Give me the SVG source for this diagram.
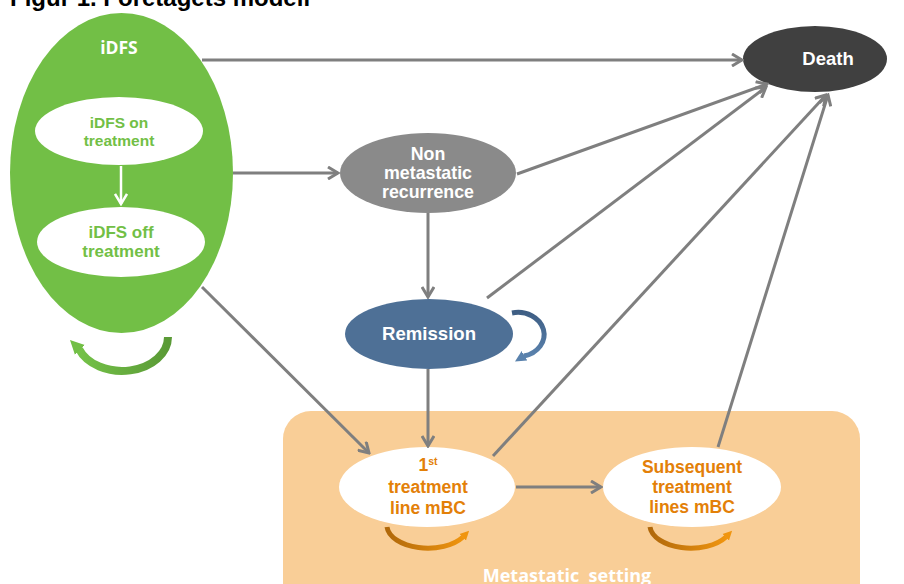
<svg xmlns="http://www.w3.org/2000/svg" width="904" height="584" viewBox="0 0 904 584">
<defs>
<style>
.b{font-family:"Liberation Sans",Arial,sans-serif;font-weight:bold;text-anchor:middle}
.o{font-family:"Open Sans","Liberation Sans",sans-serif;font-weight:bold;text-anchor:middle}
.w{fill:#ffffff}
.g{fill:#72BF46}
.or{fill:#E38008}
.con{stroke:#7F7F7F;stroke-width:3;fill:none;marker-end:url(#ah)}
</style>
<marker id="ah" viewBox="0 0 14 14" refX="12" refY="7" markerWidth="14" markerHeight="14" markerUnits="userSpaceOnUse" orient="auto">
<path d="M2,1 L12,7 L2,13" fill="none" stroke="#7F7F7F" stroke-width="3" stroke-linejoin="miter"/>
</marker>
<marker id="ahw" viewBox="0 0 14 14" refX="12" refY="7" markerWidth="14" markerHeight="14" markerUnits="userSpaceOnUse" orient="auto">
<path d="M2,1 L12,7 L2,13" fill="none" stroke="#ffffff" stroke-width="2.5"/>
</marker>
<marker id="mg" viewBox="0 0 10 10" refX="1" refY="5" markerWidth="14" markerHeight="18" markerUnits="userSpaceOnUse" orient="auto">
<path d="M0,0 L10,5 L0,10 z" fill="#72BF46"/>
</marker>
<marker id="mb" viewBox="0 0 10 10" refX="1" refY="5" markerWidth="11" markerHeight="13" markerUnits="userSpaceOnUse" orient="auto">
<path d="M0,0 L10,5 L0,10 z" fill="#5A82AD"/>
</marker>
<marker id="mo" viewBox="0 0 10 10" refX="1" refY="5" markerWidth="9" markerHeight="11" markerUnits="userSpaceOnUse" orient="auto">
<path d="M0,0 L10,5 L0,10 z" fill="#F0950F"/>
</marker>
<linearGradient id="gg" x1="0" y1="0" x2="1" y2="0">
<stop offset="0" stop-color="#74C248"/><stop offset="1" stop-color="#5A9A36"/>
</linearGradient>
<linearGradient id="gb" x1="0" y1="0" x2="0" y2="1">
<stop offset="0" stop-color="#3E5E84"/><stop offset="1" stop-color="#5A82AD"/>
</linearGradient>
<linearGradient id="go" x1="0" y1="0" x2="1" y2="0">
<stop offset="0" stop-color="#B0680A"/><stop offset="1" stop-color="#F0950F"/>
</linearGradient>
</defs>
<rect width="904" height="584" fill="#ffffff"/>
<text x="10" y="6" style="font-family:'Liberation Sans',Arial,sans-serif;font-weight:bold;font-size:24px">Figur 1. Företagets modell</text>

<g id="metastatic-setting">
<rect x="283" y="411" width="577" height="200" rx="28" fill="#F9CE97"/>
<text x="567" y="582" class="o w" style="font-size:18px;white-space:pre">Metastatic  setting</text>
</g>

<g id="idfs">
<ellipse cx="121.5" cy="173" rx="111.5" ry="160" fill="#72BF46"/>
<text x="119" y="54" class="o w" style="font-size:17.5px">iDFS</text>
<path d="M168,337 A46,34 0 0 1 79,349" fill="none" stroke="url(#gg)" stroke-width="8"/>
<path d="M79,349 L78.9,348.9" fill="none" stroke="#72BF46" stroke-width="8" marker-end="url(#mg)"/>
</g>
<g id="idfs-on">
<ellipse cx="119" cy="131" rx="84" ry="34" fill="#ffffff"/>
<text x="119" y="128" class="b g" style="font-size:15.5px">iDFS on</text>
<text x="119" y="146" class="b g" style="font-size:15.5px">treatment</text>
</g>
<g id="idfs-off">
<ellipse cx="121" cy="242" rx="84" ry="35" fill="#ffffff"/>
<text x="121" y="238" class="b g" style="font-size:17px">iDFS off</text>
<text x="121" y="257" class="b g" style="font-size:17px">treatment</text>
</g>

<g id="death">
<ellipse cx="815" cy="59" rx="72" ry="33" fill="#404040"/>
<text x="828" y="65" class="b w" style="font-size:18.5px">Death</text>
</g>

<g id="non-metastatic">
<ellipse cx="428" cy="173" rx="88" ry="40" fill="#8A8A8A"/>
<text x="428" y="160" class="b w" style="font-size:17.8px">Non</text>
<text x="428" y="179" class="b w" style="font-size:17.8px">metastatic</text>
<text x="428" y="198" class="b w" style="font-size:17.8px">recurrence</text>
</g>

<g id="remission">
<ellipse cx="429" cy="334" rx="84" ry="35" fill="#4E7096"/>
<text x="429" y="340" class="b w" style="font-size:18.6px">Remission</text>
<path d="M512,313 A26,22 0 0 1 524,356" fill="none" stroke="url(#gb)" stroke-width="5"/>
<path d="M524,356 L523.5,356.3" fill="none" stroke="#5A82AD" stroke-width="5" marker-end="url(#mb)"/>
</g>

<g id="first-line">
<ellipse cx="427" cy="487" rx="88" ry="40" fill="#ffffff"/>
<text x="428" y="471" class="b or" style="font-size:17.5px">1<tspan style="font-size:10.5px" dy="-6">st</tspan></text>
<text x="428" y="493" class="b or" style="font-size:17.5px">treatment</text>
<text x="428" y="514" class="b or" style="font-size:17.5px">line mBC</text>
<path d="M387,527 A41,23 0 0 0 463,537" fill="none" stroke="url(#go)" stroke-width="5"/>
<path d="M463,537 L463.4,536.6" fill="none" stroke="#F0950F" stroke-width="5" marker-end="url(#mo)"/>
</g>

<g id="subsequent">
<ellipse cx="692" cy="487" rx="89" ry="40" fill="#ffffff"/>
<text x="692" y="473" class="b or" style="font-size:17.5px">Subsequent</text>
<text x="692" y="493" class="b or" style="font-size:17.5px">treatment</text>
<text x="692" y="513" class="b or" style="font-size:17.5px">lines mBC</text>
<path d="M650,527 A41,23 0 0 0 726,537" fill="none" stroke="url(#go)" stroke-width="5"/>
<path d="M726,537 L726.4,536.6" fill="none" stroke="#F0950F" stroke-width="5" marker-end="url(#mo)"/>
</g>

<g id="connectors">
<line x1="121" y1="166" x2="121" y2="204" stroke="#ffffff" stroke-width="2.5" marker-end="url(#ahw)"/>
<line x1="202" y1="60" x2="742" y2="60" class="con"/>
<line x1="233" y1="173" x2="338" y2="173" class="con"/>
<line x1="202" y1="287" x2="369" y2="453" class="con"/>
<line x1="428" y1="213" x2="428" y2="297" class="con"/>
<line x1="517" y1="174" x2="767" y2="84" class="con"/>
<line x1="487" y1="298" x2="766" y2="87" class="con"/>
<line x1="428" y1="369" x2="428" y2="446" class="con"/>
<line x1="493" y1="456" x2="826" y2="95" class="con"/>
<line x1="718" y1="447" x2="828" y2="95" class="con"/>
<line x1="516" y1="487" x2="601" y2="487" class="con"/>
</g>
</svg>
